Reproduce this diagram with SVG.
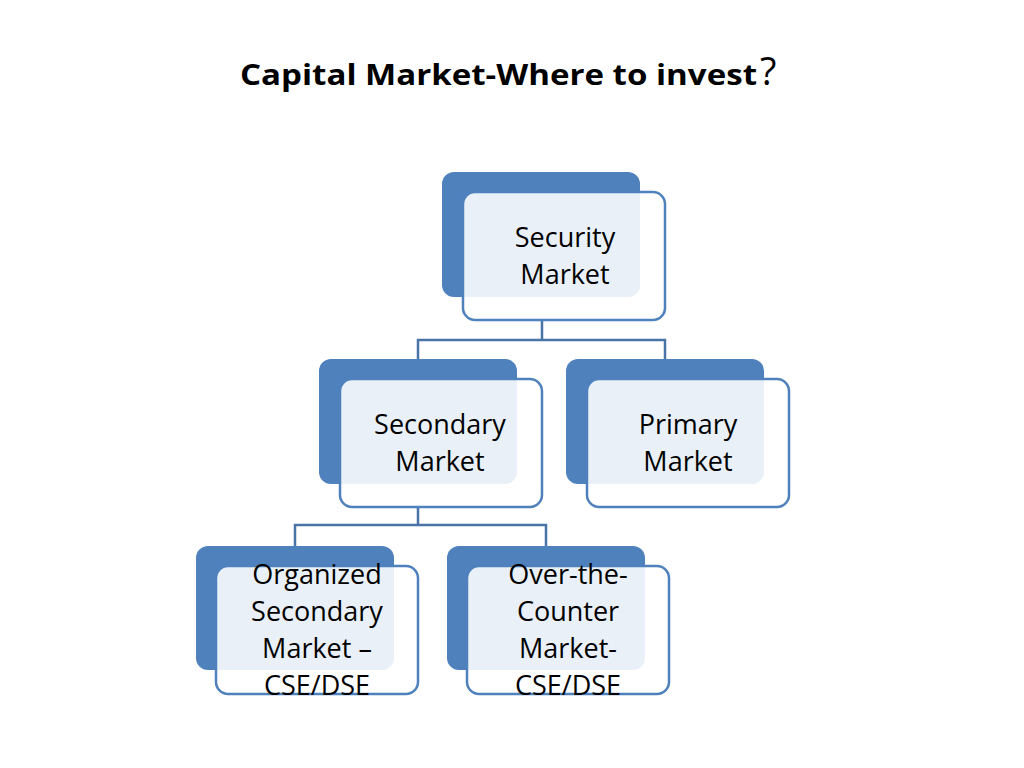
<svg xmlns="http://www.w3.org/2000/svg" width="1024" height="768" viewBox="0 0 1024 768">
<style>
.back{fill:#4f81bd}
.front{fill:#ffffff;fill-opacity:0.88;stroke:#4f81bd;stroke-width:2.5}
.lbl{font-family:"Open Sans","Liberation Sans",sans-serif;font-size:27px;fill:#000;text-anchor:middle}
.con{fill:none;stroke:#4a74a8;stroke-width:2.5}
</style>
<rect width="1024" height="768" fill="#fff"/>
<text x="240" y="85" font-family="'Open Sans','Liberation Sans',sans-serif" font-weight="bold" font-size="28" fill="#000" textLength="517" lengthAdjust="spacingAndGlyphs">Capital Market-Where to invest</text>
<text x="760" y="85" font-family="'Open Sans','Liberation Sans',sans-serif" font-size="38" fill="#000">?</text>
<g id="connectors">
<path class="con" d="M542 320V340M418 359V340H665V359"/>
<path class="con" d="M418 507V525M295 546V525H546V546"/>
</g>
<g id="security">
<rect class="back" x="442" y="172" width="198" height="125" rx="12"/>
<rect class="front" x="463" y="192" width="202" height="128" rx="12"/>
<text class="lbl" x="565" y="247">Security</text><text class="lbl" x="565" y="284">Market</text>
</g>
<g id="secondary">
<rect class="back" x="319" y="359" width="198" height="125" rx="12"/>
<rect class="front" x="340" y="379" width="202" height="128" rx="12"/>
<text class="lbl" x="440" y="434">Secondary</text><text class="lbl" x="440" y="471">Market</text>
</g>
<g id="primary">
<rect class="back" x="566" y="359" width="198" height="125" rx="12"/>
<rect class="front" x="587" y="379" width="202" height="128" rx="12"/>
<text class="lbl" x="688" y="434">Primary</text><text class="lbl" x="688" y="471">Market</text>
</g>
<g id="organized">
<rect class="back" x="196" y="546" width="198" height="124" rx="12"/>
<rect class="front" x="216" y="566" width="202" height="128" rx="12"/>
<text class="lbl" x="317" y="584">Organized</text><text class="lbl" x="317" y="621">Secondary</text><text class="lbl" x="317" y="658">Market –</text><text class="lbl" x="317" y="695">CSE/DSE</text>
</g>
<g id="otc">
<rect class="back" x="447" y="546" width="198" height="124" rx="12"/>
<rect class="front" x="467" y="566" width="202" height="128" rx="12"/>
<text class="lbl" x="568" y="584">Over-the-</text><text class="lbl" x="568" y="621">Counter</text><text class="lbl" x="568" y="658">Market-</text><text class="lbl" x="568" y="695">CSE/DSE</text>
</g>
</svg>
